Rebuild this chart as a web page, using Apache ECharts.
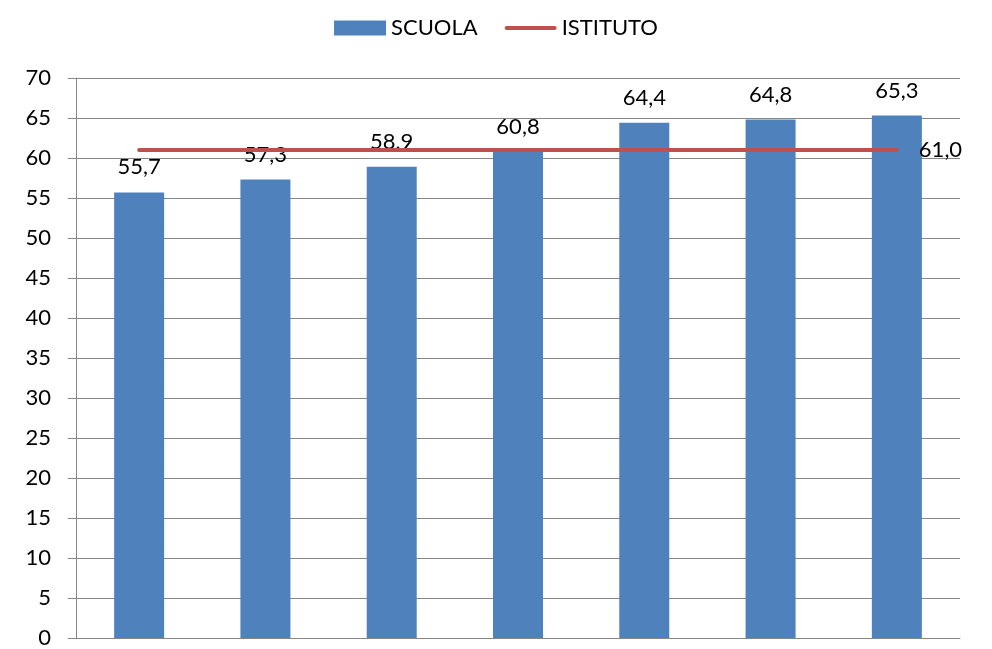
<!DOCTYPE html>
<html>
<head>
<meta charset="utf-8">
<script src="https://cdn.jsdelivr.net/npm/echarts@6/dist/echarts.min.js"></script>
<style>
html,body{margin:0;padding:0;background:#fff;}
#c{width:992px;height:649px;}
</style>
</head>
<body>
<div id="c"></div>
<script>
var categories = ['1', '2', '3', '4', '5', '6', '7'];
var scuola = [55.7, 57.3, 58.9, 60.8, 64.4, 64.8, 65.3];
var istituto = [61.0, 61.0, 61.0, 61.0, 61.0, 61.0, 61.0];
var yTicks = {min: 0, max: 70, interval: 5};

var FONT = 'Lato, "Open Sans", sans-serif';
var FS = 22;
function fmt(v){ return v.toFixed(1).replace('.', ','); }

var chart = echarts.init(document.getElementById('c'), null, {renderer: 'canvas'});
chart.setOption({
  animation: false,
  textStyle: {fontFamily: FONT},
  legend: {
    top: 12,
    left: 'center',
    itemWidth: 52,
    itemHeight: 15,
    itemGap: 27,
    itemTextGap: 7,
    symbolKeepAspect: true,
    textStyle: {fontSize: FS, color: '#000', fontFamily: FONT},
    data: [
      {name: 'SCUOLA', icon: 'rect'},
      {name: 'ISTITUTO', icon: 'path://M2,0 L50,0 A2,2 0 0 1 50,4 L2,4 A2,2 0 0 1 2,0 Z'}
    ]
  },
  grid: {left: 76, right: 32, top: 78, bottom: 8, containLabel: false},
  xAxis: {
    type: 'category',
    data: categories,
    axisLine: {lineStyle: {color: '#868686', width: 1}},
    axisTick: {show: false},
    axisLabel: {show: false}
  },
  yAxis: {
    type: 'value',
    min: yTicks.min,
    max: yTicks.max,
    interval: yTicks.interval,
    axisLine: {show: true, lineStyle: {color: '#868686', width: 1}},
    axisTick: {show: true, length: 8, lineStyle: {color: '#868686'}},
    axisLabel: {fontSize: FS, color: '#000', margin: 25, fontFamily: FONT},
    splitLine: {lineStyle: {color: '#868686', width: 1}}
  },
  series: [
    {
      name: 'SCUOLA',
      type: 'bar',
      data: scuola,
      barWidth: '39.6%',
      itemStyle: {color: '#4F81BD'},
      label: {
        show: true,
        position: 'top',
        distance: 14,
        fontSize: FS,
        color: '#000',
        fontFamily: FONT,
        formatter: function(p){ return fmt(p.value); }
      },
      z: 2
    },
    {
      name: 'ISTITUTO',
      type: 'line',
      data: istituto,
      symbol: 'none',
      lineStyle: {color: '#C0504D', width: 4, cap: 'round'},
      itemStyle: {color: '#C0504D'},
      endLabel: {
        show: true,
        fontSize: FS,
        color: '#000',
        fontFamily: FONT,
        distance: 22,
        formatter: function(p){ return fmt(p.value); }
      },
      z: 3
    }
  ]
});
</script>
</body>
</html>
